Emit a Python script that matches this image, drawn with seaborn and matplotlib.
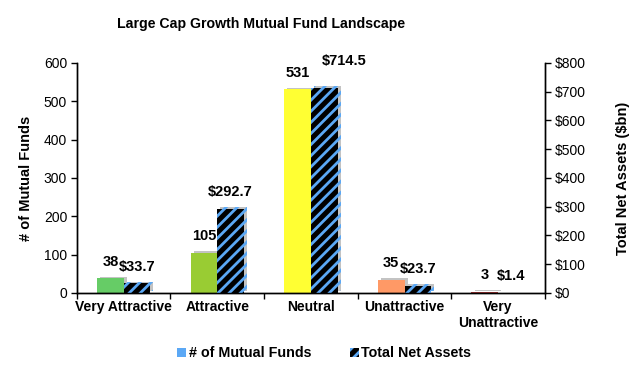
import pandas as pd
import numpy as np
import matplotlib.pyplot as plt
import matplotlib.patheffects as pe
from matplotlib.patches import Patch
import seaborn as sns

ratings = ['Very Attractive', 'Attractive', 'Neutral', 'Unattractive', 'Very\nUnattractive']
num_funds = [38, 105, 531, 35, 3]
net_assets = [33.7, 292.7, 714.5, 23.7, 1.4]
rating_colors = ['#66CC66', '#99CC33', '#FFFF33', '#FF9966', '#B03A3A']

sns.set_theme(style="white")
plt.rcParams['font.family'] = ['Liberation Sans', 'DejaVu Sans']
plt.rcParams['text.color'] = 'black'
plt.rcParams['axes.labelcolor'] = 'black'
plt.rcParams['xtick.color'] = 'black'
plt.rcParams['ytick.color'] = 'black'
plt.rcParams['hatch.linewidth'] = 2.0
plt.rcParams['hatch.color'] = '#5BA8F5'

S1, S2 = '# of Mutual Funds', 'Total Net Assets'
df = pd.DataFrame({
    'Rating': ratings * 2,
    'Series': [S1] * 5 + [S2] * 5,
    'Funds': num_funds + [np.nan] * 5,
    'Assets': [np.nan] * 5 + net_assets,
})

fig = plt.figure(figsize=(6.3, 3.68), dpi=100)
ax1 = fig.add_axes([0.122, 0.204, 0.743, 0.625])
ax2 = ax1.twinx()

sns.barplot(data=df, x='Rating', y='Funds', hue='Series', hue_order=[S1, S2],
            order=ratings, width=0.57, ax=ax1, legend=False)
sns.barplot(data=df, x='Rating', y='Assets', hue='Series', hue_order=[S1, S2],
            order=ratings, width=0.57, ax=ax2, legend=False)

shadow = [pe.SimplePatchShadow(offset=(2.2, 1.2), shadow_rgbFace='#AAAAAA', alpha=0.7), pe.Normal()]

fund_bars = [p for p in ax1.patches if p.get_height() > 0]
fund_bars.sort(key=lambda p: p.get_x())
for p, c, v in zip(fund_bars, rating_colors, num_funds):
    p.set_facecolor(c)
    p.set_edgecolor('none')
    p.set_path_effects(shadow)
    ax1.annotate(f'{v}', (p.get_x() + p.get_width() / 2, v), xytext=(0, 7),
                 textcoords='offset points', ha='center', va='bottom',
                 fontsize=10.5, fontweight='bold')

asset_bars = [p for p in ax2.patches if p.get_height() > 0]
asset_bars.sort(key=lambda p: p.get_x())
for p, v in zip(asset_bars, net_assets):
    p.set_facecolor('black')
    p.set_edgecolor('#5BA8F5')
    p.set_linewidth(0)
    p.set_hatch('///')
    p.set_path_effects(shadow)
    # the tallest label sits higher and to the right, clear of its neighbour
    off = (14, 14) if v == max(net_assets) else (0, 7)
    ax2.annotate(f'${v:.1f}', (p.get_x() + p.get_width() / 2, v), xytext=off,
                 textcoords='offset points', ha='center', va='bottom',
                 fontsize=10.5, fontweight='bold')

ax1.set_ylim(0, 600)
ax1.set_yticks(range(0, 601, 100))
ax2.set_ylim(0, 800)
ax2.set_yticks(range(0, 801, 100))
ax2.set_yticklabels([f'${v}' for v in range(0, 801, 100)])
ax1.set_xlim(-0.5, 4.5)

for ax in (ax1, ax2):
    ax.spines['top'].set_visible(False)
    for s in ('left', 'right', 'bottom'):
        ax.spines[s].set_color('black')
        ax.spines[s].set_linewidth(1)
    ax.tick_params(axis='y', labelsize=10, length=4, width=1, color='black', pad=3)

ax1.tick_params(axis='y', left=True, direction='out')
ax2.tick_params(axis='y', right=True, direction='out')
ax1.set_xticks(np.arange(-0.5, 5, 1), minor=True)
ax1.tick_params(axis='x', which='minor', bottom=True, length=4, width=1, color='black', direction='out')
ax1.tick_params(axis='x', which='major', length=0, labelsize=10, pad=5)
for t in ax1.get_xticklabels():
    t.set_fontweight('bold')

ax1.set_xlabel('')
ax1.set_ylabel('# of Mutual Funds', fontsize=10.5, fontweight='bold', labelpad=8)
ax2.set_ylabel('Total Net Assets ($bn)', fontsize=10.5, fontweight='bold', labelpad=22)

fig.suptitle('Large Cap Growth Mutual Fund Landscape', x=0.414, y=0.955,
             fontsize=10.2, fontweight='bold')

handles = [Patch(facecolor='#5BA8F5', edgecolor='none'),
           Patch(facecolor='black', edgecolor='#5BA8F5', hatch='///', linewidth=0)]
fig.legend(handles, [S1, S2], loc='center', bbox_to_anchor=(0.515, 0.04), ncol=2,
           frameon=False, prop={'weight': 'bold', 'size': 10.3},
           handlelength=0.6, handleheight=0.6, handletextpad=0.2, columnspacing=2.7)

fig.savefig('out.png', dpi=100)
